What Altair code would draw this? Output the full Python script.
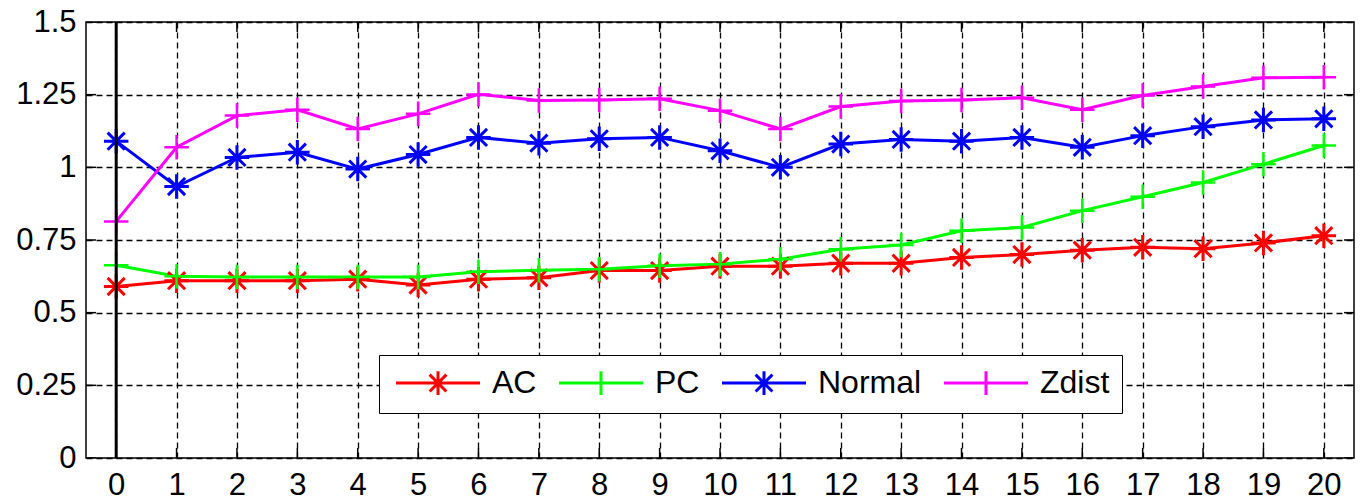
import altair as alt
import pandas as pd

x_vals = list(range(21))
series_names = ["AC", "PC", "Normal", "Zdist"]
series_colors = ["#ff0000", "#00ff00", "#0000ff", "#ff00ff"]

ac = [0.59, 0.61, 0.61, 0.61, 0.615, 0.595, 0.615, 0.62, 0.645, 0.645, 0.66,
      0.66, 0.67, 0.67, 0.69, 0.70, 0.715, 0.725, 0.72, 0.74, 0.765]
pc = [0.663, 0.625, 0.623, 0.623, 0.623, 0.623, 0.641, 0.646, 0.649, 0.661, 0.667,
      0.684, 0.718, 0.733, 0.782, 0.793, 0.851, 0.899, 0.948, 1.011, 1.075]
normal = [1.09, 0.934, 1.034, 1.052, 0.994, 1.044, 1.103, 1.083, 1.098, 1.103, 1.057,
          1.0, 1.08, 1.096, 1.09, 1.103, 1.069, 1.109, 1.14, 1.163, 1.167]
zdist = [0.814, 1.069, 1.178, 1.198, 1.132, 1.184, 1.251, 1.23, 1.232, 1.236, 1.195,
         1.132, 1.209, 1.228, 1.232, 1.239, 1.198, 1.247, 1.278, 1.308, 1.31]

y_ticks = [0, 0.25, 0.5, 0.75, 1, 1.25, 1.5]
vline_x = [0]

rows = []
for name, vals in zip(series_names, [ac, pc, normal, zdist]):
    for xv, yv in zip(x_vals, vals):
        rows.append({"x": xv, "value": yv, "series": name})
df = pd.DataFrame(rows)
vdf = pd.DataFrame({"x": vline_x})
xtdf = pd.DataFrame({"x": x_vals})
ytdf = pd.DataFrame({"value": y_ticks})

FONT = "Liberation Sans"
W, H = 1268, 436

asterisk = "M-1,0L1,0M0,-1L0,1M-0.7,-0.7L0.7,0.7M-0.7,0.7L0.7,-0.7"
plus = "M-1,0L1,0M0,-1L0,1"
# legend symbols: a long line segment with the marker in the middle
leg_ast = "M-3,0L3,0M0,-0.85L0,0.85M-0.6,-0.6L0.6,0.6M-0.6,0.6L0.6,-0.6"
leg_plus = "M-3,0L3,0M0,-0.85L0,0.85"

xs = alt.Scale(domain=[-0.5, 20.5], nice=False, zero=False)
ys = alt.Scale(domain=[0, 1.5], nice=False)
cs = alt.Scale(domain=series_names, range=series_colors)
ss = alt.Scale(domain=series_names, range=[leg_ast, leg_plus, leg_ast, leg_plus])

x_enc = alt.X("x:Q", scale=xs, axis=alt.Axis(
    values=x_vals, labelExpr="datum.value + ''", title=None, labelFontSize=31,
    labelFont=FONT, labelColor="black",
    ticks=False, domain=False, grid=True, gridColor="black", gridDash=[6, 4],
    gridWidth=1.3, gridOpacity=1, labelPadding=12, labelFlush=False))
y_enc = alt.Y("value:Q", scale=ys, axis=alt.Axis(
    values=y_ticks, labelExpr="datum.value + ''", title=None, labelFontSize=31,
    labelFont=FONT, labelColor="black", ticks=False, domain=False, grid=True,
    gridColor="black", gridDash=[6, 4], gridWidth=1.3, gridOpacity=1,
    labelPadding=10, labelFlush=False))

leg = alt.Legend(
    title=None, orient="none", direction="horizontal", legendX=293, legendY=333,
    labelFontSize=32, labelFont=FONT, labelColor="black", symbolSize=784,
    symbolStrokeWidth=3, symbolFillColor="transparent", symbolOpacity=1,
    strokeColor="black", fillColor="white", padding=12, columnPadding=16,
    labelOffset=38, symbolOffset=31, symbolType=leg_plus,
)

color = alt.Color("series:N", scale=cs, legend=leg)

base = alt.Chart(df)

lines = base.mark_line(strokeWidth=3).encode(
    x=x_enc, y=y_enc, color=color, order="x:Q",
)

pts_ast = base.transform_filter(
    alt.FieldOneOfPredicate(field="series", oneOf=["AC", "Normal"])
).mark_point(shape=asterisk, size=600, strokeWidth=3, filled=False, opacity=1).encode(
    x=alt.X("x:Q", scale=xs), y=alt.Y("value:Q", scale=ys), color=color,
)

pts_plus = base.transform_filter(
    alt.FieldOneOfPredicate(field="series", oneOf=["PC", "Zdist"])
).mark_point(shape=plus, size=600, strokeWidth=2.5, filled=False, opacity=1).encode(
    x=alt.X("x:Q", scale=xs), y=alt.Y("value:Q", scale=ys), color=color,
)

dummy = base.mark_point(filled=False, opacity=0).encode(
    x=alt.X("x:Q", scale=xs), y=alt.Y("value:Q", scale=ys),
    color=color, shape=alt.Shape("series:N", scale=ss, legend=leg),
)

vline = alt.Chart(vdf).mark_rule(color="black", strokeWidth=3).encode(
    x=alt.X("x:Q", scale=xs)
)

# inward tick marks on all four sides (clipped to the plot frame)
xt_bottom = alt.Chart(xtdf).mark_tick(orient="vertical", size=20, thickness=1.5,
                                       color="black", clip=True, opacity=1).encode(
    x=alt.X("x:Q", scale=xs), y=alt.value(H))
xt_top = alt.Chart(xtdf).mark_tick(orient="vertical", size=20, thickness=1.5,
                                    color="black", clip=True, opacity=1).encode(
    x=alt.X("x:Q", scale=xs), y=alt.value(0))
yt_left = alt.Chart(ytdf).mark_tick(orient="horizontal", size=20, thickness=1.5,
                                     color="black", clip=True, opacity=1).encode(
    y=alt.Y("value:Q", scale=ys), x=alt.value(0))
yt_right = alt.Chart(ytdf).mark_tick(orient="horizontal", size=20, thickness=1.5,
                                      color="black", clip=True, opacity=1).encode(
    y=alt.Y("value:Q", scale=ys), x=alt.value(W))

chart = alt.layer(xt_bottom, xt_top, yt_left, yt_right,
                  lines, pts_ast, pts_plus, vline, dummy).properties(
    width=W, height=H,
    autosize=alt.AutoSizeParams(type="none"),
    padding={"left": 86, "top": 22, "right": 11, "bottom": 46},
    background="white",
).configure_view(stroke="black", strokeWidth=1.5)

chart.save("out.html", embed_options={"renderer": "svg", "actions": False})
